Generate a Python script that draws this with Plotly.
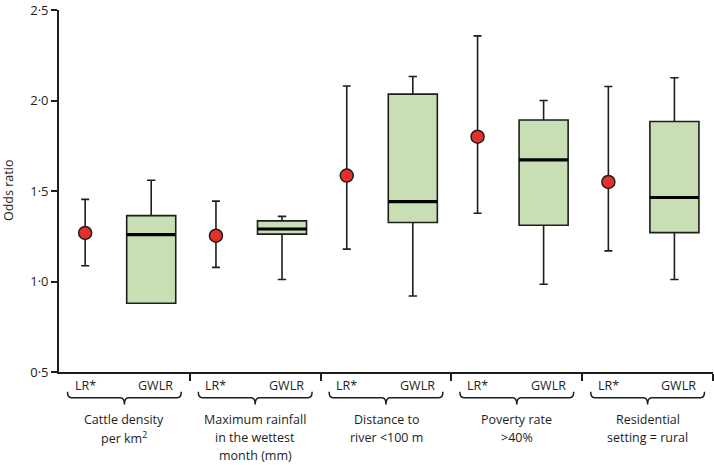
import plotly.graph_objects as go

# ---------------- data ----------------
categories = [
    ["Cattle density", "per km<sup>2</sup>"],
    ["Maximum rainfall", "in the wettest", "month (mm)"],
    ["Distance to", "river <100 m"],
    ["Poverty rate", ">40%"],
    ["Residential", "setting = rural"],
]
lr_or = [1.268, 1.253, 1.585, 1.800, 1.550]
lr_lower = [1.087, 1.078, 1.179, 1.377, 1.169]
lr_upper = [1.454, 1.444, 2.080, 2.357, 2.077]

gwlr_lowerfence = [0.880, 1.011, 0.920, 0.985, 1.011]
gwlr_q1 = [0.880, 1.262, 1.326, 1.311, 1.270]
gwlr_median = [1.259, 1.290, 1.441, 1.672, 1.464]
gwlr_q3 = [1.364, 1.335, 2.035, 1.892, 1.884]
gwlr_upperfence = [1.559, 1.360, 2.133, 2.000, 2.126]

ytick_vals = [0.5, 1.0, 1.5, 2.0, 2.5]
ytick_text = ["0·5", "1·0", "1·5", "2·0", "2·5"]
method_labels = ["LR*", "GWLR"]

# ---------------- layout helpers ----------------
LR_OFF = 0.2
GW_OFF = 0.705
BOX_W = 0.375
FONT = "Open Sans"
INK = "#1e1e1e"

n = len(categories)
x_lr = [i + LR_OFF for i in range(n)]
x_gw = [i + GW_OFF for i in range(n)]

fig = go.Figure()

fig.add_trace(go.Box(
    x=x_gw, q1=gwlr_q1, median=gwlr_median, q3=gwlr_q3,
    lowerfence=gwlr_lowerfence, upperfence=gwlr_upperfence,
    width=BOX_W, whiskerwidth=0.17,
    fillcolor="#c8dfb4", line=dict(color=INK, width=1.6),
    boxpoints=False, showlegend=False, hoverinfo="skip",
))

# thicker median lines
mx, my = [], []
for xc, m in zip(x_gw, gwlr_median):
    mx += [xc - BOX_W / 2, xc + BOX_W / 2, None]
    my += [m, m, None]
fig.add_trace(go.Scatter(x=mx, y=my, mode="lines",
                         line=dict(color="black", width=3.2),
                         showlegend=False, hoverinfo="skip"))

fig.add_trace(go.Scatter(
    x=x_lr, y=lr_or, mode="markers",
    marker=dict(size=13, color="#e8302a", line=dict(color=INK, width=1.5)),
    error_y=dict(type="data", symmetric=False,
                 array=[u - o for u, o in zip(lr_upper, lr_or)],
                 arrayminus=[o - l for o, l in zip(lr_or, lr_lower)],
                 color=INK, thickness=1.6, width=4),
    showlegend=False, hoverinfo="skip",
))

# bottom labels, braces
PLOT_TOP, PLOT_BOT = 5, 372
H = PLOT_BOT - PLOT_TOP


def py(px):
    return (PLOT_BOT - px) / H


annotations = []
shapes = []
for i, lines in enumerate(categories):
    annotations.append(dict(x=i + LR_OFF, y=py(386), xref="x", yref="paper",
                            xanchor="center", yanchor="middle",
                            text=method_labels[0], showarrow=False,
                            font=dict(family=FONT, size=12.5, color=INK)))
    annotations.append(dict(x=i + 0.74, y=py(386), xref="x", yref="paper",
                            xanchor="center", yanchor="middle",
                            text=method_labels[1], showarrow=False,
                            font=dict(family=FONT, size=12.5, color=INK)))
    for k, t in enumerate(lines):
        annotations.append(dict(x=i + 0.5, y=py(420 + 18.5 * k), xref="x", yref="paper",
                                xanchor="center", yanchor="middle",
                                text=t, showarrow=False,
                                font=dict(family=FONT, size=12.5, color=INK)))
    # curly brace
    a, b, c = i + 0.065, i + 0.5, i + 0.935
    yt, yl, ytip = py(392), py(398), py(405)
    e = 0.03
    path = (f"M {a},{yt} Q {a},{yl} {a+e},{yl} L {b-e},{yl} "
            f"Q {b},{yl} {b},{ytip} Q {b},{yl} {b+e},{yl} "
            f"L {c-e},{yl} Q {c},{yl} {c},{yt}")
    shapes.append(dict(type="path", path=path, xref="x", yref="paper",
                       line=dict(color=INK, width=1.5)))

annotations.append(dict(x=0, y=0.5, xref="paper", yref="paper", xshift=-51,
                        xanchor="center", yanchor="middle",
                        text="Odds ratio", textangle=-90, showarrow=False,
                        font=dict(family=FONT, size=12.5, color=INK)))

fig.update_layout(
    width=714, height=465,
    margin=dict(l=59, r=1, t=PLOT_TOP, b=465 - PLOT_BOT),
    plot_bgcolor="white", paper_bgcolor="white",
    font=dict(family=FONT, size=12, color=INK),
    annotations=annotations, shapes=shapes,
    xaxis=dict(range=[0, n], tickvals=list(range(1, n + 1)), showticklabels=False,
               ticks="outside", ticklen=7, tickwidth=1.8, tickcolor=INK,
               showline=True, linecolor=INK, linewidth=1.8, showgrid=False,
               zeroline=False, fixedrange=True),
    yaxis=dict(range=[0.5, 2.5], tickvals=ytick_vals, ticktext=ytick_text,
               ticks="outside", ticklen=6, tickwidth=1.5, tickcolor=INK,
               showline=True, linecolor=INK, linewidth=1.8, showgrid=False,
               zeroline=False, ticklabeloverflow="allow",
               tickfont=dict(family=FONT, size=13, color=INK)),
)

fig.write_html("out.html", config={"displayModeBar": False},
               post_script="document.body.style.margin='0';document.body.style.padding='0';")
